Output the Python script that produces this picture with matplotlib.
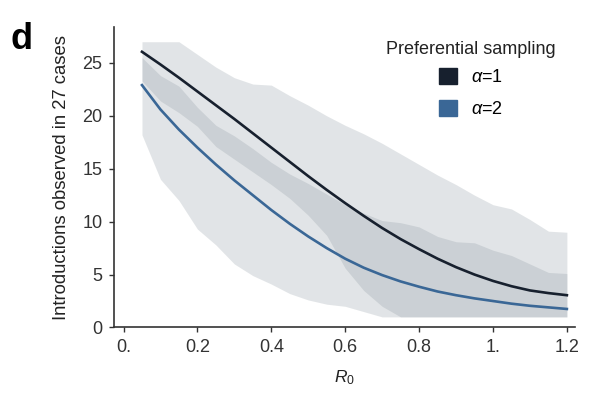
import matplotlib
matplotlib.use("Agg")
import matplotlib.pyplot as plt
from matplotlib.patches import Patch

plt.rcParams['font.family'] = ['Liberation Sans', 'DejaVu Sans']
plt.rcParams['mathtext.fontset'] = 'custom'
plt.rcParams['mathtext.rm'] = 'Liberation Sans'
plt.rcParams['mathtext.it'] = 'Liberation Sans:italic'

# R0 grid shared by the curves and the bands
r0 = [0.05, 0.10, 0.15, 0.20, 0.25, 0.30, 0.35, 0.40, 0.45, 0.50, 0.55, 0.60,
      0.65, 0.70, 0.75, 0.80, 0.85, 0.90, 0.95, 1.00, 1.05, 1.10, 1.15, 1.20]

# mean number of introductions observed
mean_a1 = [26.05, 24.85, 23.6, 22.3, 21.0, 19.7, 18.35, 17.0, 15.65, 14.3, 13.0, 11.75,
           10.55, 9.4, 8.35, 7.4, 6.5, 5.7, 5.0, 4.4, 3.9, 3.5, 3.25, 3.05]
mean_a2 = [22.9, 20.6, 18.7, 17.0, 15.4, 13.9, 12.5, 11.1, 9.8, 8.6, 7.5, 6.5,
           5.65, 4.95, 4.35, 3.85, 3.4, 3.05, 2.75, 2.5, 2.25, 2.05, 1.9, 1.75]

# simulation intervals
lo_a1 = [23.3, 21.4, 20.3, 19.0, 17.1, 15.9, 14.7, 13.5, 12.2, 10.6, 8.7, 5.6,
         3.5, 2.0, 1.0, 1.0, 1.0, 1.0, 1.0, 1.0, 1.0, 1.0, 1.0, 1.0]
hi_a1 = [27, 27, 27, 25.8, 24.6, 23.6, 23.0, 22.9, 21.9, 21.0, 20.0, 19.1,
         18.3, 17.4, 16.4, 15.4, 14.4, 13.5, 12.5, 11.6, 11.2, 10.2, 9.1, 9.0]
lo_a2 = [18.2, 14.0, 12.0, 9.3, 7.8, 6.0, 4.9, 4.1, 3.2, 2.6, 2.2, 2.0,
         1.5, 1.0, 1.0, 1.0, 1.0, 1.0, 1.0, 1.0, 1.0, 1.0, 1.0, 1.0]
hi_a2 = [25.5, 23.8, 22.8, 20.8, 19.1, 18.1, 16.9, 15.6, 14.5, 13.6, 12.6, 11.6,
         10.8, 10.1, 9.9, 9.5, 8.6, 8.1, 8.0, 7.3, 6.8, 6.0, 5.2, 5.1]

xticks = [0, 0.2, 0.4, 0.6, 0.8, 1.0, 1.2]
xticklabels = ['0.', '0.2', '0.4', '0.6', '0.8', '1.', '1.2']
yticks = [0, 5, 10, 15, 20, 25]

c1 = '#17202e'
c2 = '#3a6796'
band = '#8a96a0'

fig = plt.figure(figsize=(5.89, 4.04), dpi=100)
ax = fig.add_axes([0.194, 0.1894, 0.782, 0.744])

ax.fill_between(r0, lo_a1, hi_a1, color=band, alpha=0.25, lw=0)
ax.fill_between(r0, lo_a2, hi_a2, color=band, alpha=0.25, lw=0)
ax.plot(r0, mean_a1, color=c1, lw=1.9, solid_joinstyle='round')
ax.plot(r0, mean_a2, color=c2, lw=1.9, solid_joinstyle='round')

ax.set_xlim(-0.025, 1.2216)
ax.set_ylim(0, 28.4)
ax.set_xticks(xticks)
ax.set_xticklabels(xticklabels)
ax.set_yticks(yticks)
for s in ['top', 'right']:
    ax.spines[s].set_visible(False)
for s in ['left', 'bottom']:
    ax.spines[s].set_color('#333333')
    ax.spines[s].set_linewidth(1.2)
ax.tick_params(axis='both', labelsize=13, colors='#333333', length=3.5, width=1.0)
ax.tick_params(axis='x', pad=5)
ax.tick_params(axis='y', pad=5)

ax.set_xlabel(r'$R_0$', fontsize=12.5, labelpad=9, color='#222222')
ax.set_ylabel('Introductions observed in 27 cases', fontsize=13.3, labelpad=9, color='#222222')

handles = [Patch(color=c1), Patch(color=c2)]
ax.legend(handles, [r'$\alpha$=1', r'$\alpha$=2'], loc='upper center',
          bbox_to_anchor=(0.775, 0.918), frameon=False, fontsize=13,
          handlelength=0.95, handleheight=1.0, handletextpad=0.8,
          labelspacing=0.75)
ax.text(0.775, 0.953, 'Preferential sampling', transform=ax.transAxes,
        ha='center', va='top', fontsize=13, color='#222222')

fig.text(0.017, 0.945, 'd', fontsize=26, fontweight='bold', va='top')

fig.savefig('out.png', dpi=100)
